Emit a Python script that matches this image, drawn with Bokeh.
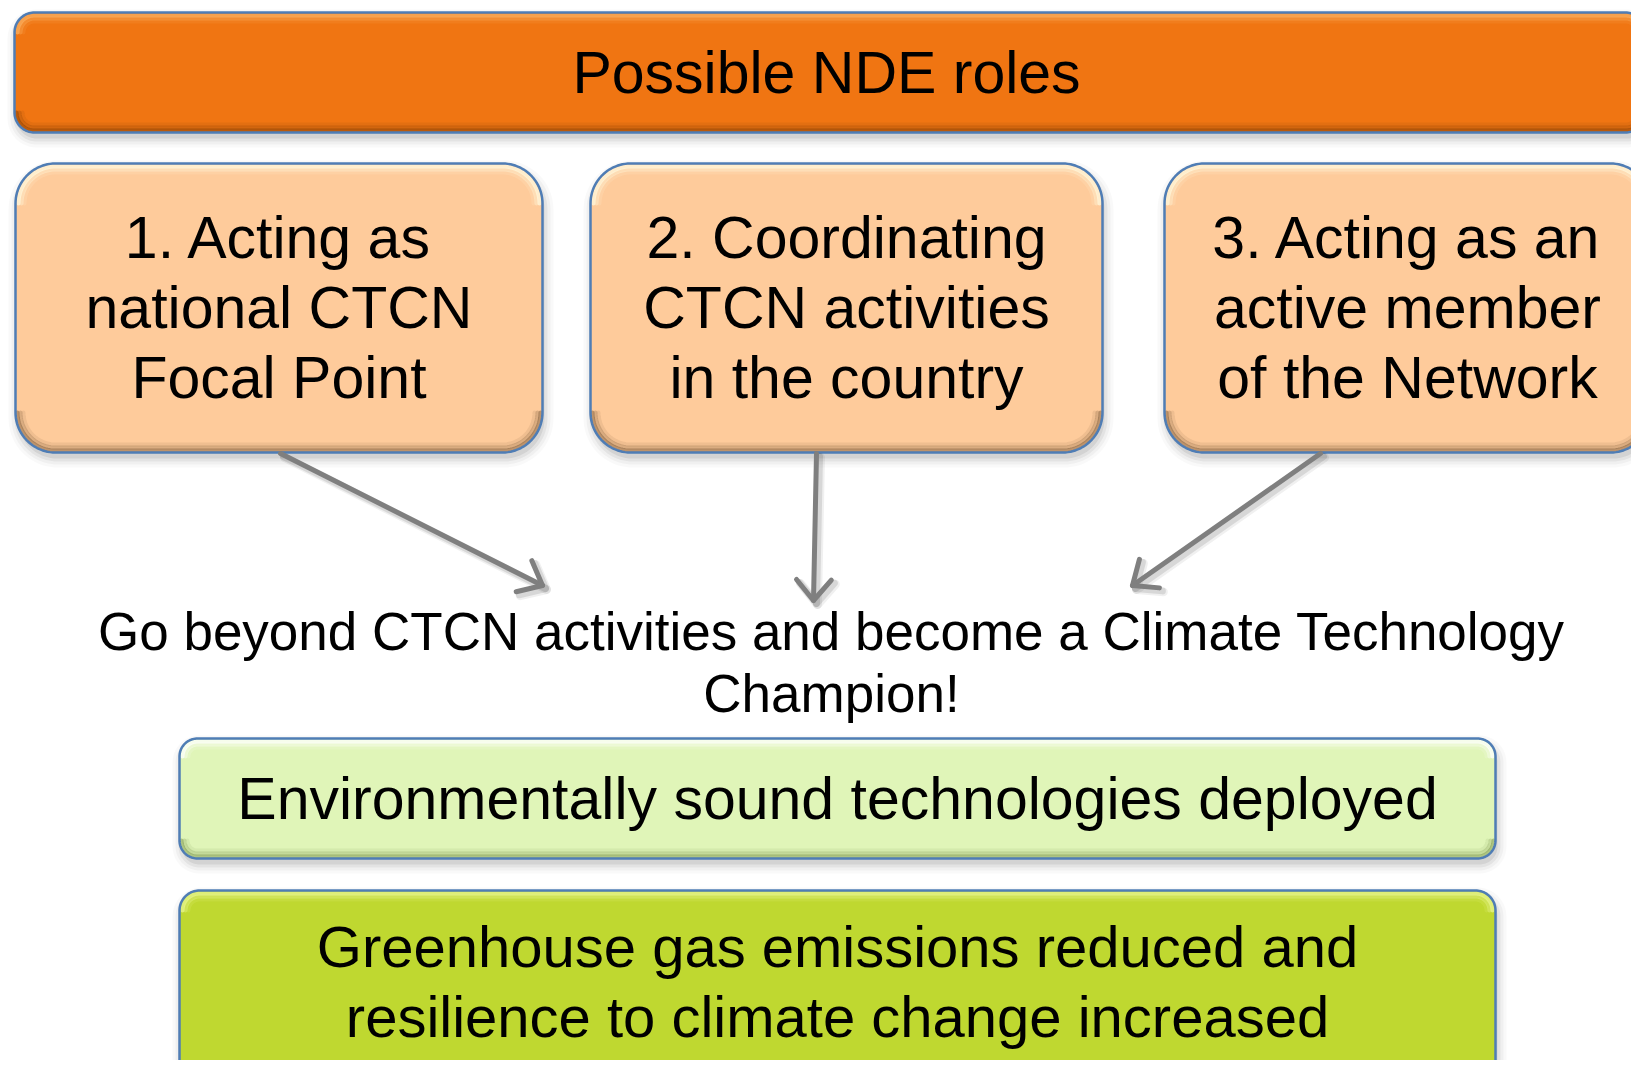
import numpy as np
from bokeh.plotting import figure
from bokeh.models import Range1d
from bokeh.core.properties import value
from bokeh.embed import file_html
from bokeh.resources import INLINE

# ---------------- content ----------------
title_text = ["Possible NDE roles"]
role_lines = [
    ["1. Acting as", "national CTCN", "Focal Point"],
    ["2. Coordinating", "CTCN activities", "in the country"],
    ["3. Acting as an", "active member", "of the Network"],
]
champion_lines = ["Go beyond CTCN activities and become a Climate Technology", "Champion!"]
outcome1_lines = ["Environmentally sound technologies deployed"]
outcome2_lines = ["Greenhouse gas emissions reduced and", "resilience to climate change increased"]

# ---------------- layout (pixel coordinates of the picture) ----------------
FONT = value("Liberation Sans")
BORDER = "#4F7DB5"
BASELINE_FIX = 0.37  # em; compensates Bokeh's alphabetic baseline placement

W, H = 1631, 1060
p = figure(width=W, height=H, x_range=Range1d(0, W), y_range=Range1d(H, 0),
           output_backend="svg", toolbar_location=None,
           x_axis_location=None, y_axis_location=None, min_border=0)
p.grid.visible = False
p.outline_line_color = None
p.background_fill_color = "white"
p.border_fill_color = "white"


def rr_points(x0, y0, x1, y1, r, d=0.0, t_ranges=None, n=24):
    """Rounded rectangle outline (y grows downward). d = inset."""
    x0, y0, x1, y1 = x0 + d, y0 + d, x1 - d, y1 - d
    rr = max(r - d, 1)
    centers = {
        "br": (x1 - rr, y1 - rr, 0.0, 0.5 * np.pi),
        "bl": (x0 + rr, y1 - rr, 0.5 * np.pi, np.pi),
        "tl": (x0 + rr, y0 + rr, np.pi, 1.5 * np.pi),
        "tr": (x1 - rr, y0 + rr, 1.5 * np.pi, 2 * np.pi),
    }
    order = t_ranges if t_ranges is not None else ["br", "bl", "tl", "tr"]
    xs, ys = [], []
    for key in order:
        cx, cy, a0, a1 = centers[key]
        t = np.linspace(a0, a1, n)
        xs.extend(cx + rr * np.cos(t))
        ys.extend(cy + rr * np.sin(t))
    return xs, ys


def draw_box(x0, y0, x1, y1, r, fill, light, dark):
    # soft shadow
    for e, a in [(9, 0.025), (6, 0.035), (3, 0.05), (0, 0.07)]:
        xs, ys = rr_points(x0 - e + 2, y0 - e + 6, x1 + e + 2, y1 + e + 6, r + e)
        p.patch(xs, ys, fill_color="black", fill_alpha=a, line_color=None)
    xs, ys = rr_points(x0, y0, x1, y1, r)
    p.patch(xs, ys, fill_color=fill, line_color=None)
    # bevel: light top, dark bottom
    for d, w, a in [(3, 4, 0.75), (6, 4, 0.4), (9, 4, 0.15)]:
        tx, ty = rr_points(x0, y0, x1, y1, r, d=d, t_ranges=["tl", "tr"])
        p.line(tx, ty, line_color=light, line_width=w, line_alpha=a, line_cap="round")
    for d, w, a in [(2, 4, 0.45), (5, 4, 0.25), (8, 4, 0.1)]:
        bx, by = rr_points(x0, y0, x1, y1, r, d=d, t_ranges=["br", "bl"])
        p.line(bx, by, line_color=dark, line_width=w, line_alpha=a, line_cap="round")
    p.patch(xs, ys, fill_color=None, line_color=BORDER, line_width=2.5)


def draw_lines(cx, first_baseline, spacing, lines, size_px):
    shift = BASELINE_FIX * size_px
    p.text(x=[cx] * len(lines),
           y=[first_baseline + i * spacing - shift for i in range(len(lines))],
           text=lines, text_font=FONT, text_font_size=value(f"{size_px}px"),
           text_color="black", text_align="center", text_baseline="alphabetic")


# title bar
draw_box(14, 12, 1645, 132, 20, "#F07512", "#FBB060", "#7A3A05")
draw_lines(826, 94, 70, title_text, 59)

# role boxes
role_boxes = [(15, 163, 542, 452), (590, 163, 1102, 452), (1164, 163, 1650, 452)]
for (bx0, by0, bx1, by1), lines in zip(role_boxes, role_lines):
    draw_box(bx0, by0, bx1, by1, 40, "#FECB9B", "#FFF8DC", "#6E5030")
    draw_lines((bx0 + bx1) / 2, by0 + 96, 70, lines, 59)

# arrows
arrows = [((280, 453), (542, 585)), ((816, 453), (813, 600)), ((1320, 453), (1132, 585))]
for (sx, sy), (tx, ty) in arrows:
    ang = np.arctan2(ty - sy, tx - sx)
    L = 27
    hx = [tx + L * np.cos(ang + np.pi - 0.7), tx, tx + L * np.cos(ang + np.pi + 0.7)]
    hy = [ty + L * np.sin(ang + np.pi - 0.7), ty, ty + L * np.sin(ang + np.pi + 0.7)]
    for off, w, a in [(4, 9, 0.06), (3, 7, 0.1)]:
        p.line([sx + off, tx + off], [sy + off, ty + off], line_color="black",
               line_alpha=a, line_width=w, line_cap="round")
        p.line([h + off for h in hx], [h + off for h in hy], line_color="black",
               line_alpha=a, line_width=w, line_cap="round", line_join="round")
    p.line([sx, tx], [sy, ty], line_color="#7F7F7F", line_width=5, line_cap="round")
    p.line(hx, hy, line_color="#7F7F7F", line_width=5, line_cap="round", line_join="round")

# champion text
draw_lines(831, 651, 62, champion_lines, 53)

# outcome boxes
draw_box(179, 738, 1495, 858, 18, "#E0F5B8", "#FFFFFF", "#6F8A40")
draw_lines(837, 820, 70, outcome1_lines, 59)

draw_box(179, 890, 1495, 1090, 20, "#BFD830", "#E8F590", "#4E5A10")
draw_lines(837, 967, 70, outcome2_lines, 58)

open("out.html", "w").write(file_html(p, INLINE))
